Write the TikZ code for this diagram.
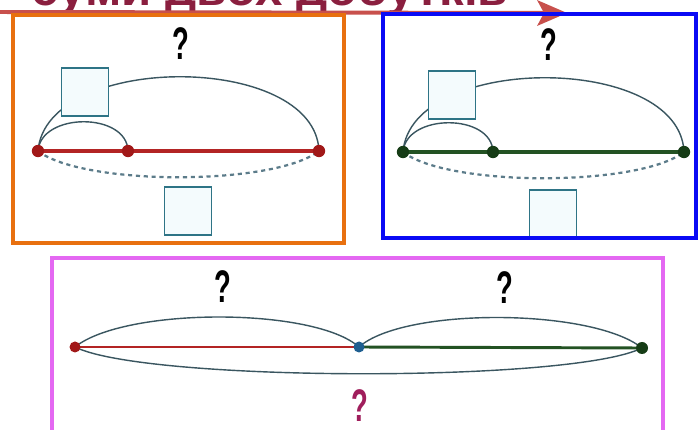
\documentclass[tikz,border=0pt]{standalone}
\usepackage{fontspec}
\setmainfont{Liberation Sans}
\pgfdeclarelayer{bg}
\pgfsetlayers{bg,main}
\definecolor{framor}{HTML}{E8700F}
\definecolor{frambl}{HTML}{0A0AF5}
\definecolor{frampk}{HTML}{E468F2}
\definecolor{sqcol}{HTML}{2E7486}
\definecolor{sqfill}{HTML}{F4FBFD}
\definecolor{arccol}{HTML}{3A5660}
\definecolor{dashcol}{HTML}{5C7C8A}
\definecolor{redln}{HTML}{B32424}
\definecolor{reddot}{HTML}{A11818}
\definecolor{grnln}{HTML}{235223}
\definecolor{grndot}{HTML}{163C16}
\definecolor{bludot}{HTML}{1E5E90}
\definecolor{arrowred}{HTML}{C8504C}
\definecolor{titlecol}{HTML}{8A1F3F}
\definecolor{qpink}{HTML}{A01E5C}
\begin{document}
\begin{tikzpicture}[x=0.03cm,y=-0.03cm,
  qmark/.style={inner sep=0pt, font=\bfseries\fontsize{39}{39}\selectfont},
  titletext/.style={inner sep=0pt, text=titlecol, font=\bfseries\fontsize{42}{42}\selectfont},
  sq/.style={draw=sqcol, fill=sqfill, line width=1.5pt, minimum width=1.41cm, minimum height=1.44cm, inner sep=0pt},
  dot/.style={circle, inner sep=0pt, minimum size=0.37cm},
  arcline/.style={draw=arccol, line width=1.2pt},
  dashline/.style={draw=dashcol, line width=1.9pt, dash pattern=on 3.5pt off 3.2pt},
  frame/.style={line width=3.4pt},
  seg/.style={line width=2.9pt}
]
\useasboundingbox (0,0) rectangle (698,430);
\begin{pgfonlayer}{bg}
\fill[white] (0,0) rectangle (698,430);
\end{pgfonlayer}

% title and arrow
\node[titletext, anchor=base west] (title) at (31,6) {суми двох добутків};
\coordinate (arrS) at (0,12);
\coordinate (arrT) at (567,13);
\draw[draw=arrowred, line width=3.4pt] (arrS) -- ([xshift=-0.6cm]arrT);
\fill[arrowred] (arrT) -- ++(-30,-13) -- ++(7,13) -- ++(-7,13) -- cycle;

% orange panel
\node[qmark] (qa) at (181,44) {\scalebox{0.6}[1]{?}};
\node[dot, fill=reddot] (a1) at (38,151) {};
\node[dot, fill=reddot] (a2) at (128,151) {};
\node[dot, fill=reddot] (a3) at (319,151) {};
\begin{pgfonlayer}{bg}
\draw[redln, seg] (a1.center) -- (a3.center);
\draw[arcline] (a1.center) .. controls +(3,-39) and +(-1,-39) .. (a2.center);
\draw[arcline] (a1.center) .. controls +(8,-99) and +(-4,-99) .. (a3.center);
\draw[dashline] (a1.center) .. controls +(45,35) and +(-45,35) .. (a3.center);
\end{pgfonlayer}
\node[sq] (sa1) at (85,92) {};
\node[sq] (sa2) at (188,211) {};
\draw[framor, frame] (13,15) rectangle (344,243);

% blue panel
\begin{scope}[shift={(365,1)}]
\node[qmark] (qb) at (184,44) {\scalebox{0.6}[1]{?}};
\node[dot, fill=grndot] (b1) at (38,151) {};
\node[dot, fill=grndot] (b2) at (128,151) {};
\node[dot, fill=grndot] (b3) at (319,151) {};
\begin{pgfonlayer}{bg}
\draw[grnln, seg] (b1.center) -- (b3.center);
\draw[arcline] (b1.center) .. controls +(3,-39) and +(-1,-39) .. (b2.center);
\draw[arcline] (b1.center) .. controls +(8,-99) and +(-4,-99) .. (b3.center);
\draw[dashline] (b1.center) .. controls +(45,35) and +(-45,35) .. (b3.center);
\end{pgfonlayer}
\node[sq] (sb1) at (87,94) {};
\node[sq] (sb2) at (188,213) {};
\end{scope}
\draw[frambl, frame] (383,14) rectangle (696,238);

% pink panel
\node[qmark] (qc1) at (223,287) {\scalebox{0.6}[1]{?}};
\node[qmark] (qc2) at (505,288) {\scalebox{0.6}[1]{?}};
\node[qmark, text=qpink] (qc3) at (360,406) {\scalebox{0.6}[1]{?}};
\node[dot, fill=reddot, minimum size=0.33cm] (c1) at (75,347) {};
\node[dot, fill=bludot, minimum size=0.33cm] (c2) at (359,347) {};
\node[dot, fill=grndot, minimum size=0.36cm] (c3) at (642,348) {};
\begin{pgfonlayer}{bg}
\draw[redln, line width=2.3pt] (c1.center) -- (c2.center);
\draw[grnln, line width=2.5pt] (c2.center) -- (c3.center);
\draw[arcline] (c1.center) .. controls +(50,-40) and +(-45,-40) .. (c2.center);
\draw[arcline] (c2.center) .. controls +(45,-40) and +(-50,-40) .. (c3.center);
\draw[arcline] (c1.center) .. controls +(70,35) and +(-70,35) .. (c3.center);
\end{pgfonlayer}
\draw[frampk, frame] (52,258) rectangle (663,445);
\end{tikzpicture}
\end{document}
